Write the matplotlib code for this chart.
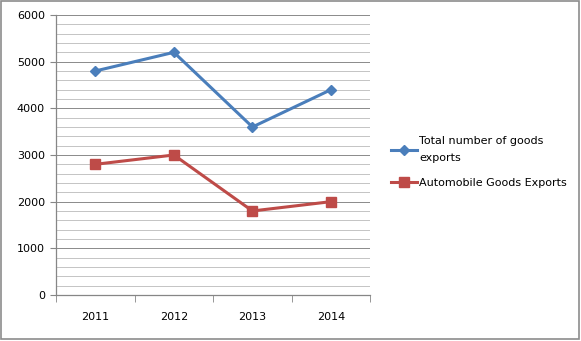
import matplotlib.pyplot as plt
import numpy as np
from matplotlib.patches import Rectangle

years = ['2011', '2012', '2013', '2014']
total_exports = [4800, 5200, 3600, 4400]
auto_exports = [2800, 3000, 1800, 2000]

fig = plt.figure(figsize=(5.81, 3.41), dpi=100)
fig.patch.set_facecolor('white')
# outer chart border
fig.patches.append(Rectangle((0.002, 0.006), 0.994, 0.99, transform=fig.transFigure,
                             fill=False, edgecolor='#8c8c8c', linewidth=1.2))

ax = fig.add_axes([0.0964, 0.135, 0.541, 0.821])
x = np.arange(len(years))

# gridlines: light every 200, darker every 1000
for v in range(200, 6001, 200):
    c = '#8a8a8a' if v % 1000 == 0 else '#c4c4c4'
    ax.axhline(v, color=c, linewidth=0.7, zorder=1)

ax.plot(x, total_exports, color='#4a7ebb', linewidth=2.2, marker='D', markersize=5.5,
        label='Total number of goods\nexports', zorder=3)
ax.plot(x, auto_exports, color='#be4b48', linewidth=2.2, marker='s', markersize=7,
        label='Automobile Goods Exports', zorder=3)

ax.set_xlim(-0.5, 3.5)
ax.set_ylim(0, 6000)
ax.set_yticks(range(0, 6001, 1000))
ax.set_yticklabels([str(v) for v in range(0, 6001, 1000)], fontsize=8)
ax.set_xticks(x)
ax.set_xticklabels(years, fontsize=8)
ax.tick_params(axis='x', length=0, pad=12)
ax.tick_params(axis='y', length=4, color='#868686', pad=4)
# category boundary ticks
ax.set_xticks(np.arange(-0.5, 3.6, 1), minor=True)
ax.tick_params(axis='x', which='minor', length=5, color='#868686', direction='out')

for s in ['top', 'right']:
    ax.spines[s].set_visible(False)
for s in ['left', 'bottom']:
    ax.spines[s].set_color('#868686')
    ax.spines[s].set_linewidth(0.9)

leg = fig.legend(loc='upper left', bbox_to_anchor=(0.655, 0.63), frameon=False, fontsize=8,
                 handlelength=2.4, handletextpad=0.2, labelspacing=1.3)
for t in leg.get_texts():
    t.set_linespacing(1.9)

fig.savefig('out.png', dpi=100)
